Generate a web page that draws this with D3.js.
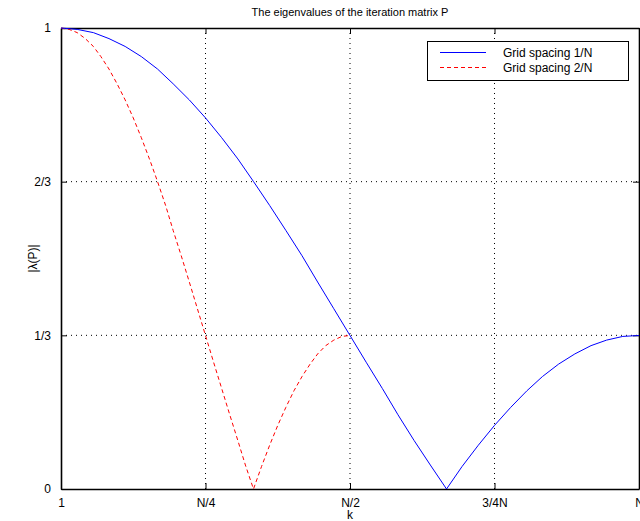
<!DOCTYPE html>
<html>
<head>
<meta charset="utf-8">
<script src="https://cdn.jsdelivr.net/npm/d3@7"></script>
<style>
  html, body { margin: 0; padding: 0; background: #fff; }
  svg { display: block; font-family: "Liberation Sans", Arial, sans-serif; }
</style>
</head>
<body>
<svg id="chart" width="640" height="521"></svg>
<script>
// k / N positions for the fine-grid curve (spacing 1/N)
const kFine = [0.000, 0.028, 0.056, 0.083, 0.111, 0.139, 0.167, 0.194, 0.222, 0.250,
  0.278, 0.306, 0.333, 0.361, 0.389, 0.417, 0.444, 0.472, 0.500, 0.528, 0.556, 0.583,
  0.611, 0.639, 0.667, 0.694, 0.722, 0.750, 0.778, 0.806, 0.833, 0.861, 0.889, 0.917,
  0.944, 0.972, 1.000];
const lambdaFine = [1.000, 0.997, 0.990, 0.977, 0.960, 0.938, 0.911, 0.879, 0.844, 0.805,
  0.762, 0.716, 0.667, 0.615, 0.561, 0.506, 0.449, 0.391, 0.333, 0.275, 0.218, 0.161,
  0.105, 0.052, 0.000, 0.049, 0.095, 0.138, 0.177, 0.213, 0.244, 0.271, 0.293, 0.311,
  0.323, 0.331, 0.333];
// k / N positions for the coarse-grid curve (spacing 2/N)
const kCoarse = [0.000, 0.014, 0.028, 0.042, 0.056, 0.069, 0.083, 0.097, 0.111, 0.125,
  0.139, 0.153, 0.167, 0.181, 0.194, 0.208, 0.222, 0.236, 0.250, 0.264, 0.278, 0.292,
  0.306, 0.319, 0.333, 0.347, 0.361, 0.375, 0.389, 0.403, 0.417, 0.431, 0.444, 0.458,
  0.472, 0.486, 0.500];
const lambdaCoarse = [1.000, 0.997, 0.990, 0.977, 0.960, 0.938, 0.911, 0.879, 0.844, 0.805,
  0.762, 0.716, 0.667, 0.615, 0.561, 0.506, 0.449, 0.391, 0.333, 0.275, 0.218, 0.161,
  0.105, 0.052, 0.000, 0.049, 0.095, 0.138, 0.177, 0.213, 0.244, 0.271, 0.293, 0.311,
  0.323, 0.331, 0.333];

const xTickValues = [0, 0.25, 0.5, 0.75, 1];
const xTickLabels = ["1", "N/4", "N/2", "3/4N", "N"];
const yTickValues = [0, 1/3, 2/3, 1];
const yTickLabels = ["0", "1/3", "2/3", "1"];
const seriesNames = ["Grid spacing 1/N", "Grid spacing 2/N"];
const titleText = "The eigenvalues of the iteration matrix P";
const xLabel = "k";
const yLabel = "|\u03BB(P)|";

const svg = d3.select("#chart");
const L = 61, R = 639, T = 28, B = 489;
const x = d3.scaleLinear().domain([0, 1]).range([L, R]);
const y = d3.scaleLinear().domain([0, 1]).range([B, T]);

// grid (dotted)
const grid = svg.append("g");
xTickValues.slice(1, -1).forEach(v => {
  grid.append("line").attr("x1", x(v)).attr("x2", x(v)).attr("y1", T).attr("y2", B)
    .attr("stroke", "#000").attr("stroke-width", 1).attr("stroke-dasharray", "1,4");
});
yTickValues.slice(1, -1).forEach(v => {
  grid.append("line").attr("x1", L).attr("x2", R).attr("y1", y(v)).attr("y2", y(v))
    .attr("stroke", "#000").attr("stroke-width", 1).attr("stroke-dasharray", "1,4");
});

// axes with inward ticks
const fmtX = (d, i) => xTickLabels[i];
const fmtY = (d, i) => yTickLabels[i];
const xAxis = svg.append("g").attr("transform", `translate(0,${B})`)
  .call(d3.axisBottom(x).tickValues(xTickValues).tickFormat(fmtX).tickSizeInner(-6).tickSizeOuter(0).tickPadding(9));
const xAxisTop = svg.append("g").attr("transform", `translate(0,${T})`)
  .call(d3.axisTop(x).tickValues(xTickValues).tickFormat("").tickSizeInner(-6).tickSizeOuter(0));
const yAxis = svg.append("g").attr("transform", `translate(${L},0)`)
  .call(d3.axisLeft(y).tickValues(yTickValues).tickFormat(fmtY).tickSizeInner(-6).tickSizeOuter(0).tickPadding(10));
const yAxisR = svg.append("g").attr("transform", `translate(${R},0)`)
  .call(d3.axisRight(y).tickValues(yTickValues).tickFormat("").tickSizeInner(-6).tickSizeOuter(0));
[xAxis, xAxisTop, yAxis, yAxisR].forEach(g => {
  g.select(".domain").attr("stroke", "#000").attr("stroke-width", 1.6);
  g.selectAll(".tick line").attr("stroke", "#000").attr("stroke-width", 1);
  g.selectAll("text").attr("font-size", 12).attr("fill", "#000")
    .attr("font-family", "Liberation Sans, Arial, sans-serif");
});

// curves
const line = d3.line().x(d => x(d[0])).y(d => y(d[1]));
const fine = kFine.map((k, i) => [k, lambdaFine[i]]);
const coarse = kCoarse.map((k, i) => [k, lambdaCoarse[i]]);
svg.append("path").datum(coarse).attr("d", line).attr("fill", "none")
  .attr("stroke", "#ff0000").attr("stroke-width", 1).attr("stroke-dasharray", "4,3");
svg.append("path").datum(fine).attr("d", line).attr("fill", "none")
  .attr("stroke", "#0000ff").attr("stroke-width", 1);

// title and labels
svg.append("text").attr("x", (L + R) / 2).attr("y", 16).attr("text-anchor", "middle")
  .attr("font-size", 11).text(titleText);
svg.append("text").attr("x", (L + R) / 2).attr("y", 519).attr("text-anchor", "middle")
  .attr("font-size", 12).text(xLabel);
svg.append("text").attr("transform", `translate(37,${(T + B) / 2}) rotate(-90)`)
  .attr("text-anchor", "middle").attr("font-size", 12).text(yLabel);

// legend
const lg = svg.append("g");
lg.append("rect").attr("x", 427.5).attr("y", 41.5).attr("width", 201).attr("height", 39)
  .attr("fill", "#fff").attr("stroke", "#000").attr("stroke-width", 1);
const colors = ["#0000ff", "#ff0000"];
const dashes = ["none", "4,3"];
seriesNames.forEach((name, i) => {
  const yy = 52.5 + i * 15;
  lg.append("line").attr("x1", 440).attr("x2", 486).attr("y1", yy).attr("y2", yy)
    .attr("stroke", colors[i]).attr("stroke-width", 1).attr("stroke-dasharray", dashes[i]);
  lg.append("text").attr("x", 503).attr("y", yy + 4).attr("font-size", 12).text(name);
});
</script>
</body>
</html>
